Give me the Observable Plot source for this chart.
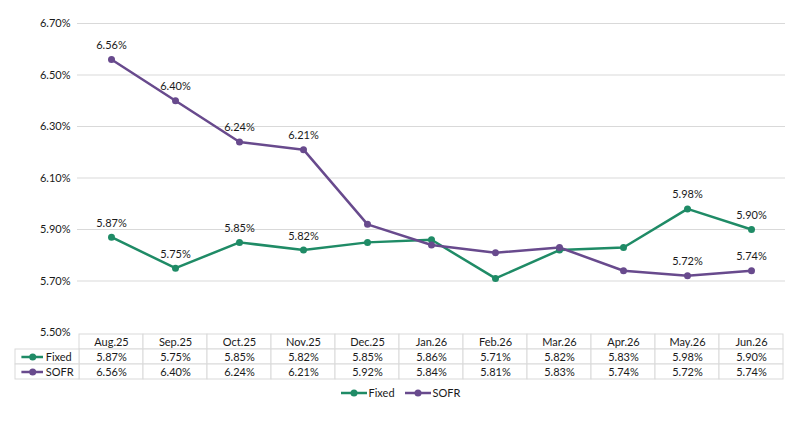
<!DOCTYPE html>
<html>
<head>
<meta charset="utf-8">
<script src="https://cdn.jsdelivr.net/npm/d3@7"></script>
<script src="https://cdn.jsdelivr.net/npm/@observablehq/plot@0.6"></script>
<style>
  body { margin: 0; background: #fff; font-family: Lato, sans-serif; }
  #chart svg { display: block; overflow: visible; }
  .legend { display: flex; justify-content: center; gap: 10px; margin-top: 6px;
            font: 11px Lato, sans-serif; color: #1a1a1a; }
  .legend span { display: inline-flex; align-items: center; gap: 2px; }
  .legend svg { display: block; }
</style>
</head>
<body>
<div id="chart"></div>
<script>
// Monthly rates, Fixed vs SOFR
const months = ["Aug.25", "Sep.25", "Oct.25", "Nov.25", "Dec.25", "Jan.26",
                "Feb.26", "Mar.26", "Apr.26", "May.26", "Jun.26"];
const fixed = [5.87, 5.75, 5.85, 5.82, 5.85, 5.86, 5.71, 5.82, 5.83, 5.98, 5.90];
const sofr  = [6.56, 6.40, 6.24, 6.21, 5.92, 5.84, 5.81, 5.83, 5.74, 5.72, 5.74];
const labeledMonths = ["Aug.25", "Sep.25", "Oct.25", "Nov.25", "May.26", "Jun.26"];
const yTicks = [5.5, 5.7, 5.9, 6.1, 6.3, 6.5, 6.7];
const seriesNames = ["Fixed", "SOFR"];
const seriesColors = ["#1f8b66", "#684a8d"];

const rows = months.flatMap((m, i) => [
  {month: m, series: "Fixed", value: fixed[i]},
  {month: m, series: "SOFR", value: sofr[i]}
]);
const fmt = v => v.toFixed(2) + "%";

const W = 801, L = 77, R = 16;
const grid = "#d9d9d9";
const ink = "#1a1a1a";
const font = {fontFamily: "Lato, sans-serif", fontSize: "11px", color: ink, background: "none"};

const main = Plot.plot({
  width: W, height: 333,
  marginLeft: L, marginRight: R, marginTop: 23, marginBottom: 1,
  style: font,
  x: {type: "point", domain: months, padding: 0.5, axis: null},
  y: {domain: [5.5, 6.7]},
  color: {domain: seriesNames, range: seriesColors},
  marks: [
    Plot.ruleY(yTicks.slice(1), {stroke: grid, strokeWidth: 1}),
    Plot.axisY(yTicks, {tickFormat: fmt, tickSize: 0, tickPadding: 7, label: null}),
    Plot.line(rows, {x: "month", y: "value", z: "series", stroke: "series", strokeWidth: 2.5}),
    Plot.dot(rows, {x: "month", y: "value", fill: "series", r: 3.5}),
    Plot.text(rows.filter(d => labeledMonths.includes(d.month)), {
      x: "month", y: "value", text: d => fmt(d.value), dy: -14, fill: ink
    })
  ]
});

// Data table under the chart: one leading column for the series keys
const bw = (W - L - R) / months.length;
const tableCols = ["", ...months];
const tableRows = ["header", ...seriesNames];
const cells = [
  ...months.flatMap(m => tableRows.map(r => ({col: m, row: r}))),
  ...seriesNames.map(s => ({col: "", row: s}))
];

const table = Plot.plot({
  width: W, height: 47,
  marginLeft: L - bw, marginRight: R, marginTop: 0.5, marginBottom: 1.5,
  style: font,
  x: {type: "band", domain: tableCols, padding: 0, axis: null},
  y: {type: "band", domain: tableRows, padding: 0, axis: null},
  color: {domain: seriesNames, range: seriesColors},
  marks: [
    Plot.cell(cells, {x: "col", y: "row", fill: "white", stroke: grid, inset: 0}),
    Plot.text(months, {x: d => d, y: () => "header", text: d => d, fill: ink}),
    Plot.text(rows, {x: "month", y: "series", text: d => fmt(d.value), fill: ink}),
    Plot.tickY(seriesNames, {x: () => "", y: d => d, stroke: d => d, strokeWidth: 2.5,
                             insetLeft: 6.4, insetRight: 36}),
    Plot.dot(seriesNames, {x: () => "", y: d => d, fill: d => d, r: 3.5, dx: -14.8}),
    Plot.text(seriesNames, {x: () => "", y: d => d, text: d => d, textAnchor: "start",
                            dx: -1.8, fill: ink})
  ]
});

const chart = document.getElementById("chart");
chart.append(main, table);

// Legend
const legend = document.createElement("div");
legend.className = "legend";
seriesNames.forEach((name, i) => {
  const item = document.createElement("span");
  item.innerHTML =
    `<svg width="26" height="8"><line x1="0" x2="26" y1="4" y2="4" stroke="${seriesColors[i]}" stroke-width="2.5"/>` +
    `<circle cx="13" cy="4" r="3.5" fill="${seriesColors[i]}"/></svg>${name}`;
  legend.append(item);
});
chart.append(legend);
</script>
</body>
</html>
